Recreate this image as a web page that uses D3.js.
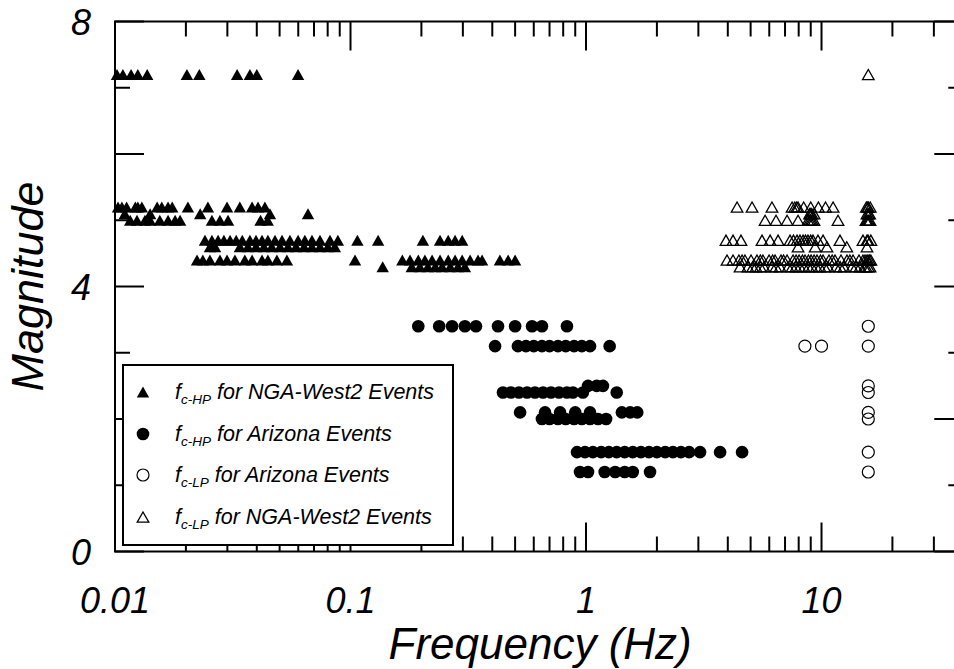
<!DOCTYPE html>
<html>
<head>
<meta charset="utf-8">
<script src="https://cdn.jsdelivr.net/npm/d3@7"></script>
<style>
  html, body { margin: 0; padding: 0; background: #fff; }
  svg text { font-family: "Liberation Sans", Arial, sans-serif; font-style: italic; fill: #000; }
</style>
</head>
<body>
<svg id="chart" width="954" height="669"></svg>
<script>
// Corner frequencies (Hz) grouped by event magnitude.
// fc-HP, NGA-West2 events (filled triangles)
const ngaHpMag = [7.2, 5.2, 5.1, 5.0, 4.7, 4.6, 4.4, 4.3];
const ngaHpFreq = [
  [0.0102, 0.0108, 0.0117, 0.0125, 0.0137, 0.0202, 0.0228, 0.033, 0.0374, 0.040, 0.0599],
  [0.0103, 0.0107, 0.0112, 0.0122, 0.0125, 0.0130, 0.0151, 0.0158, 0.0168, 0.0175, 0.0204, 0.0248, 0.0299, 0.0339, 0.0382, 0.0405, 0.0433],
  [0.011, 0.0141, 0.023, 0.0455, 0.066],
  [0.0116, 0.0124, 0.0134, 0.0141, 0.0155, 0.0168, 0.018, 0.0189, 0.0258, 0.0279, 0.0302, 0.0415, 0.0445],
  [0.0241, 0.0258, 0.0274, 0.029, 0.0308, 0.0327, 0.0347, 0.0374, 0.0397, 0.0421, 0.0446, 0.0478, 0.0512, 0.0553, 0.0599, 0.064, 0.0686, 0.0742, 0.0818, 0.0884, 0.107, 0.131, 0.203, 0.24, 0.26, 0.278, 0.298],
  [0.0253, 0.0266, 0.0339, 0.0367, 0.0397, 0.0429, 0.0463, 0.0502, 0.0543, 0.0587, 0.0635, 0.0686, 0.0742, 0.0802, 0.0858],
  [0.0223, 0.0236, 0.0253, 0.0279, 0.0299, 0.0323, 0.0356, 0.0382, 0.0421, 0.0446, 0.0487, 0.0537, 0.1045, 0.166, 0.179, 0.194, 0.207, 0.222, 0.24, 0.26, 0.278, 0.298, 0.322, 0.348, 0.362, 0.431, 0.467, 0.50],
  [0.137, 0.182, 0.197, 0.213, 0.229, 0.245, 0.265, 0.286, 0.306]
];

// fc-HP, Arizona events (filled circles)
const azHpMag = [3.4, 3.1, 2.5, 2.4, 2.1, 2.0, 1.5, 1.2];
const azHpFreq = [
  [0.194, 0.238, 0.27, 0.306, 0.341, 0.423, 0.50, 0.59, 0.65, 0.83],
  [0.411, 0.514, 0.556, 0.60, 0.65, 0.70, 0.76, 0.82, 0.89, 0.96, 1.04, 1.26],
  [1.02, 1.11, 1.18],
  [0.444, 0.48, 0.519, 0.562, 0.607, 0.657, 0.71, 0.768, 0.83, 0.88, 0.97, 1.35],
  [0.525, 0.67, 0.776, 0.90, 1.04, 1.42, 1.54, 1.65],
  [0.65, 0.70, 0.76, 0.82, 0.89, 0.96, 1.04, 1.125, 1.217],
  [0.916, 0.99, 1.07, 1.16, 1.25, 1.35, 1.46, 1.58, 1.71, 1.85, 2.0, 2.17, 2.34, 2.53, 2.74, 3.05, 3.71, 4.6],
  [0.943, 1.02, 1.2, 1.33, 1.46, 1.58, 1.87]
];

// fc-LP, Arizona events (open circles)
const azLpMag = [3.4, 3.1, 2.5, 2.4, 2.1, 2.0, 1.5, 1.2];
const azLpFreq = [
  [15.8],
  [8.5, 10.0, 15.8],
  [15.8],
  [15.8],
  [15.8],
  [15.8],
  [15.8],
  [15.8]
];

// fc-LP, NGA-West2 events (open triangles)
const ngaLpMag = [7.2, 5.2, 5.1, 5.0, 4.7, 4.6, 4.4, 4.3];
const ngaLpFreq = [
  [15.8],
  [4.38, 5.07, 6.16, 7.5, 7.7, 7.85, 7.95, 8.4, 9.0, 9.7, 10.4, 11.2, 15.5, 15.7, 15.8, 16.1],
  [8.9, 9.0, 9.1, 9.3, 15.6, 15.8, 16.0],
  [5.76, 6.41, 7.14, 7.95, 8.76, 8.9, 9.03, 9.15, 9.29, 11.75, 15.45, 15.6, 15.76, 15.9, 16.07],
  [3.93, 4.21, 4.55, 5.59, 6.05, 6.54, 7.35, 7.6, 7.87, 8.1, 8.35, 8.55, 8.76, 9.0, 9.2, 9.66, 10.15, 11.98, 15.0, 15.6, 15.76, 16.2],
  [7.95, 9.4, 10.55, 12.8, 15.6],
  [3.97, 4.21, 4.46, 4.6, 4.73, 5.02, 5.32, 5.5, 5.64, 5.99, 6.2, 6.35, 6.73, 6.9, 7.14, 7.57, 7.8, 8.03, 8.3, 8.51, 8.8, 9.03, 9.3, 9.57, 9.9, 10.15, 10.76, 11.1, 11.41, 12.1, 12.83, 13.2, 13.61, 14.43, 15.0, 15.3, 15.6, 15.76, 16.0, 16.2],
  [4.51, 4.87, 5.1, 5.27, 5.5, 5.70, 6.16, 6.4, 6.67, 7.21, 7.5, 7.79, 8.1, 8.43, 8.8, 9.11, 9.5, 9.85, 10.3, 10.66, 11.52, 12.0, 12.46, 13.47, 14.0, 14.57, 15.2, 15.45, 15.8, 16.07]
];

// Axis ticks and labels
const xTickValues = [0.01, 0.1, 1, 10];
const xTickLabels = ["0.01", "0.1", "1", "10"];
const yMajorTicks = [0, 2, 4, 6, 8];
const yMinorTicks = [1, 3, 5, 7];
const yLabelValues = [0, 4, 8];
const yLabelText = ["0", "4", "8"];

const legendLabels = [
  { sub: "c-HP", text: " for NGA-West2 Events", symbol: "triFill" },
  { sub: "c-HP", text: " for Arizona Events", symbol: "circFill" },
  { sub: "c-LP", text: " for Arizona Events", symbol: "circOpen" },
  { sub: "c-LP", text: " for NGA-West2 Events", symbol: "triOpen" }
];

// Layout
const plot = { left: 115, right: 963.3, top: 21.5, bottom: 551.5 };
const svg = d3.select("#chart");

const x = d3.scaleLog().domain([0.01, 40]).range([plot.left, plot.right]);
const y = d3.scaleLinear().domain([0, 8]).range([plot.bottom, plot.top]);

function flatten(mags, freqs) {
  const out = [];
  mags.forEach((m, i) => freqs[i].forEach(f => out.push({ f, m })));
  return out;
}

const triPath = "M0,-5.5L6.2,5.5L-6.2,5.5Z";

function drawSymbol(g, kind) {
  if (kind === "triFill") g.append("path").attr("d", triPath).attr("fill", "#000");
  else if (kind === "triOpen") g.append("path").attr("d", "M0,-5L5.8,5.2L-5.8,5.2Z").attr("fill", "none").attr("stroke", "#000").attr("stroke-width", 1.3);
  else if (kind === "circFill") g.append("circle").attr("r", 6.3).attr("fill", "#000");
  else if (kind === "circOpen") g.append("circle").attr("r", 6).attr("fill", "none").attr("stroke", "#000").attr("stroke-width", 1.2);
}

// Data marks
const dataLayer = svg.append("g");
const series = [
  { pts: flatten(ngaHpMag, ngaHpFreq), kind: "triFill" },
  { pts: flatten(azHpMag, azHpFreq), kind: "circFill" },
  { pts: flatten(azLpMag, azLpFreq), kind: "circOpen" },
  { pts: flatten(ngaLpMag, ngaLpFreq), kind: "triOpen" }
];
series.forEach(s => {
  dataLayer.append("g").selectAll("g")
    .data(s.pts)
    .join("g")
    .attr("transform", d => `translate(${x(d.f)},${y(d.m)})`)
    .each(function () { drawSymbol(d3.select(this), s.kind); });
});

// Frame and inward ticks
const axes = svg.append("g").attr("stroke", "#000").attr("stroke-width", 2).attr("fill", "none");
axes.append("rect")
  .attr("x", plot.left).attr("y", plot.top)
  .attr("width", plot.right - plot.left).attr("height", plot.bottom - plot.top);

const allX = x.ticks();
const isDecade = v => Math.abs(Math.log10(v) - Math.round(Math.log10(v))) < 1e-9;
const majorLen = 29, minorLen = 15;

allX.forEach(v => {
  const len = isDecade(v) ? majorLen : minorLen;
  const px = x(v);
  axes.append("line").attr("x1", px).attr("x2", px).attr("y1", plot.bottom).attr("y2", plot.bottom - len);
  axes.append("line").attr("x1", px).attr("x2", px).attr("y1", plot.top).attr("y2", plot.top + len);
});
[[yMajorTicks, majorLen], [yMinorTicks, minorLen]].forEach(([vals, len]) => {
  vals.forEach(v => {
    const py = y(v);
    axes.append("line").attr("x1", plot.left).attr("x2", plot.left + len).attr("y1", py).attr("y2", py);
    axes.append("line").attr("x1", plot.right).attr("x2", plot.right - len).attr("y1", py).attr("y2", py);
  });
});

// Tick labels
svg.append("g").selectAll("text")
  .data(xTickValues)
  .join("text")
  .attr("x", d => x(d))
  .attr("y", 613)
  .attr("text-anchor", "middle")
  .attr("font-size", 36)
  .text((d, i) => xTickLabels[i]);

svg.append("g").selectAll("text")
  .data(yLabelValues)
  .join("text")
  .attr("x", 91)
  .attr("y", d => y(d) + 13)
  .attr("text-anchor", "end")
  .attr("font-size", 36)
  .text((d, i) => yLabelText[i]);

// Axis titles
svg.append("text")
  .attr("x", (plot.left + plot.right) / 2 + 1)
  .attr("y", 659)
  .attr("text-anchor", "middle")
  .attr("font-size", 44)
  .text("Frequency (Hz)");

svg.append("text")
  .attr("transform", `translate(43,${y(4)}) rotate(-90)`)
  .attr("text-anchor", "middle")
  .attr("font-size", 45)
  .text("Magnitude");

// Legend
const legend = svg.append("g");
legend.append("rect")
  .attr("x", 123).attr("y", 365).attr("width", 330).attr("height", 180)
  .attr("fill", "#fff").attr("stroke", "#000").attr("stroke-width", 2);

const rowY = [392, 434, 475, 517];
legendLabels.forEach((item, i) => {
  const g = legend.append("g").attr("transform", `translate(143,${rowY[i]})`);
  drawSymbol(g, item.symbol);
  const t = legend.append("text")
    .attr("x", 175)
    .attr("y", rowY[i] + 7)
    .attr("font-size", 21.5);
  t.append("tspan").text("f");
  t.append("tspan").attr("font-size", 13.5).attr("dy", 5).text(item.sub);
  t.append("tspan").attr("dy", -5).text(item.text);
});
</script>
</body>
</html>
